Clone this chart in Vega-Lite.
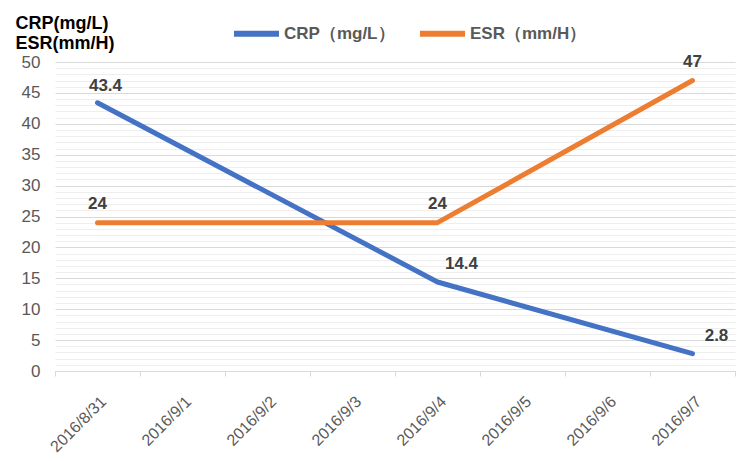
{
  "$schema": "https://vega.github.io/schema/vega-lite/v6.json",
  "width": 680,
  "height": 309,
  "autosize": {"type": "none"},
  "padding": {"left": 55, "top": 62, "right": 7, "bottom": 90},
  "background": "white",
  "config": {"view": {"stroke": null}, "font": "Liberation Sans"},
  "data": {
    "values": [
      {"date": "2016/8/31", "series": "CRP（mg/L）", "value": 43.4},
      {"date": "2016/9/4", "series": "CRP（mg/L）", "value": 14.4},
      {"date": "2016/9/7", "series": "CRP（mg/L）", "value": 2.8},
      {"date": "2016/8/31", "series": "ESR（mm/H）", "value": 24},
      {"date": "2016/9/4", "series": "ESR（mm/H）", "value": 24},
      {"date": "2016/9/7", "series": "ESR（mm/H）", "value": 47}
    ]
  },
  "encoding": {
    "x": {
      "field": "date",
      "type": "ordinal",
      "sort": null,
      "scale": {
        "type": "band",
        "domain": ["2016/8/31", "2016/9/1", "2016/9/2", "2016/9/3", "2016/9/4", "2016/9/5", "2016/9/6", "2016/9/7"],
        "paddingInner": 0,
        "paddingOuter": 0
      },
      "axis": {
        "title": null,
        "labelAngle": -45,
        "labelFontSize": 16,
        "labelColor": "#595959",
        "labelPadding": 17,
        "domainColor": "#d9d9d9",
        "domainWidth": 1,
        "tickColor": "#d9d9d9",
        "tickBand": "extent",
        "tickSize": 5,
        "grid": false
      }
    },
    "y": {
      "field": "value",
      "type": "quantitative",
      "scale": {"domain": [0, 50], "nice": false, "zero": true},
      "axis": {
        "values": [0,1,2,3,4,5,6,7,8,9,10,11,12,13,14,15,16,17,18,19,20,21,22,23,24,25,26,27,28,29,30,31,32,33,34,35,36,37,38,39,40,41,42,43,44,45,46,47,48,49,50],
        "labelExpr": "datum.value % 5 === 0 ? datum.label : ''",
        "labelOverlap": false,
        "labelFontSize": 17,
        "labelColor": "#595959",
        "labelPadding": 15,
        "ticks": false,
        "domain": false,
        "grid": true,
        "gridColor": {"condition": {"test": "datum.value % 5 === 0", "value": "#d9d9d9"}, "value": "#eeeeee"},
        "gridWidth": 1,
        "title": ["CRP(mg/L)", "ESR(mm/H)"],
        "titleAngle": 0,
        "titleAlign": "left",
        "titleBaseline": "alphabetic",
        "titleX": -40,
        "titleY": -34,
        "titleFontSize": 18,
        "titleFontWeight": "bold",
        "titleColor": "#000000",
        "titleLineHeight": 20
      }
    }
  },
  "layer": [
    {
      "mark": {"type": "line", "strokeWidth": 5, "strokeCap": "round", "strokeJoin": "round"},
      "encoding": {
        "color": {
          "field": "series",
          "type": "nominal",
          "scale": {"domain": ["CRP（mg/L）", "ESR（mm/H）"], "range": ["#4472C4", "#ED7D31"]},
          "legend": {
            "title": null,
            "orient": "none",
            "direction": "horizontal",
            "legendX": 176,
            "legendY": -54,
            "symbolType": "stroke",
            "symbolSize": 2025,
            "symbolStrokeWidth": 6,
            "labelFontSize": 17,
            "labelColor": "#595959",
            "labelFontWeight": "bold",
            "labelOffset": 2,
            "columnPadding": 13,
            "labelLimit": 200
          }
        }
      }
    },
    {
      "transform": [{"filter": "datum.series == 'ESR（mm/H）'"}],
      "mark": {"type": "text", "dy": -19, "fontSize": 17, "fontWeight": "bold", "color": "#404040"},
      "encoding": {"text": {"field": "value", "type": "quantitative"}}
    },
    {
      "transform": [{"filter": "datum.series == 'CRP（mg/L）' && datum.date == '2016/8/31'"}],
      "mark": {"type": "text", "dy": -17, "dx": 8, "fontSize": 17, "fontWeight": "bold", "color": "#404040"},
      "encoding": {"text": {"field": "value", "type": "quantitative", "format": ".1f"}}
    },
    {
      "transform": [{"filter": "datum.series == 'CRP（mg/L）' && datum.date != '2016/8/31'"}],
      "mark": {"type": "text", "dy": -18, "dx": 24, "fontSize": 17, "fontWeight": "bold", "color": "#404040"},
      "encoding": {"text": {"field": "value", "type": "quantitative", "format": ".1f"}}
    }
  ]
}
